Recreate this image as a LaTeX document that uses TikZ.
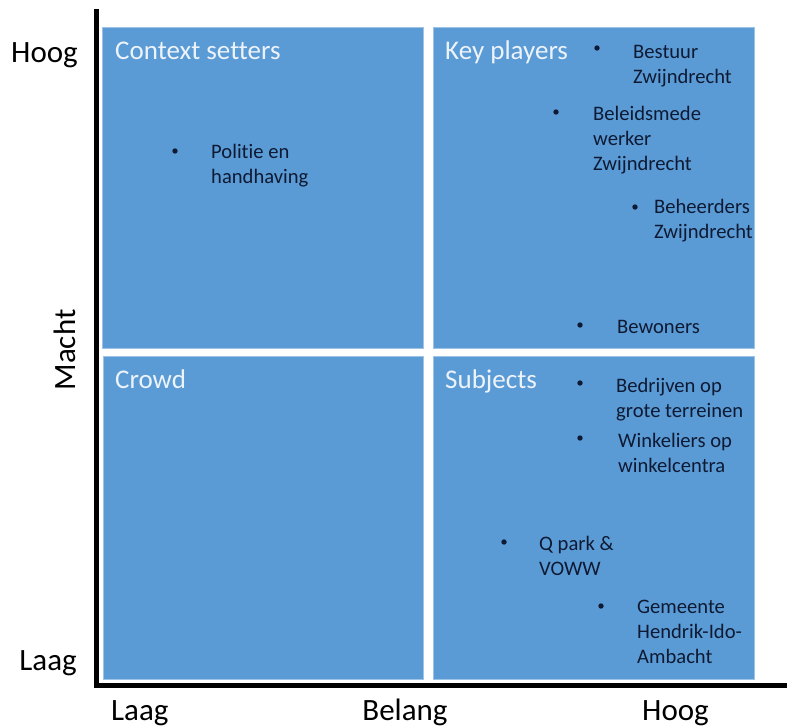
\documentclass[tikz,border=0pt]{standalone}
\usepackage{fontspec}
\setmainfont[Ligatures={NoCommon}]{Carlito}
\definecolor{boxblue}{HTML}{5B9BD5}
\definecolor{titlecol}{HTML}{EDF3FA}
\definecolor{itemcol}{HTML}{0E1A33}
\begin{document}
\begin{tikzpicture}[x=1pt,y=-1pt,
  quad/.style={fill=boxblue,draw=boxblue!60!white,line width=0.8pt},
  qtitle/.style={anchor=base west,inner sep=0pt,text=titlecol,font=\fontsize{27}{32}\selectfont},
  item/.style={anchor=base west,inner sep=0pt,align=left,text=itemcol,font=\fontsize{20.6}{25}\selectfont},
  bul/.style={circle,fill=itemcol,inner sep=0pt,minimum size=5.4pt},
  axlabel/.style={anchor=base,inner sep=0pt,text=black,font=\fontsize{31}{36}\selectfont},
  axis/.style={line width=4.8pt,black}]
\useasboundingbox (0,0) rectangle (787,726);
% quadrants
\path[quad] (102,27) rectangle (423,348);
\path[quad] (433,27) rectangle (754,348);
\path[quad] (103,356) rectangle (423,679);
\path[quad] (433,356) rectangle (754,679);
% axes
\coordinate (top) at (96.5,9);
\coordinate (origin) at (96.5,685.5);
\coordinate (right) at (787,685.5);
\draw[axis] (top) -- (origin) -- (right);
% axis labels
\node[axlabel,anchor=base east] (hoogy) at (78,62) {Hoog};
\node[axlabel,anchor=base east] (laagy) at (77,670) {Laag};
\node[axlabel,rotate=90] (macht) at (75,350) {Macht};
\node[axlabel,anchor=base west] (laagx) at (111,720) {Laag};
\node[axlabel] (belang) at (405,720) {Belang};
\node[axlabel,anchor=base west] (hoogx) at (642,720) {Hoog};
% titles
\node[qtitle] (t1) at (115,59) {Context setters};
\node[qtitle] (t2) at (445,59) {Key players};
\node[qtitle] (t3) at (115,388) {Crowd};
\node[qtitle] (t4) at (445,388) {Subjects};
% items (anchored at the baseline of their last line)
\node[bul] (b1) at (175,151) {};
\node[item] (i1) at (211,183) {Politie en\\handhaving};
\node[bul] (b2) at (597,48) {};
\node[item] (i2) at (633,83) {Bestuur\\Zwijndrecht};
\node[bul] (b3) at (556,112) {};
\node[item] (i3) at (593,170) {Beleidsmede\\werker\\Zwijndrecht};
\node[bul] (b4) at (635,207) {};
\node[item] (i4) at (654,238) {Beheerders\\Zwijndrecht};
\node[bul] (b5) at (580,325) {};
\node[item] (i5) at (617,333) {Bewoners};
\node[bul] (b6) at (580,383) {};
\node[item] (i6) at (616,417) {Bedrijven op\\grote terreinen};
\node[bul] (b7) at (580,438) {};
\node[item] (i7) at (618,472) {Winkeliers op\\winkelcentra};
\node[bul] (b8) at (504,542) {};
\node[item] (i8) at (539,575) {Q park \&\\VOWW};
\node[bul] (b9) at (601,606) {};
\node[item] (i9) at (637,663) {Gemeente\\Hendrik-Ido-\\Ambacht};
\end{tikzpicture}
\end{document}
